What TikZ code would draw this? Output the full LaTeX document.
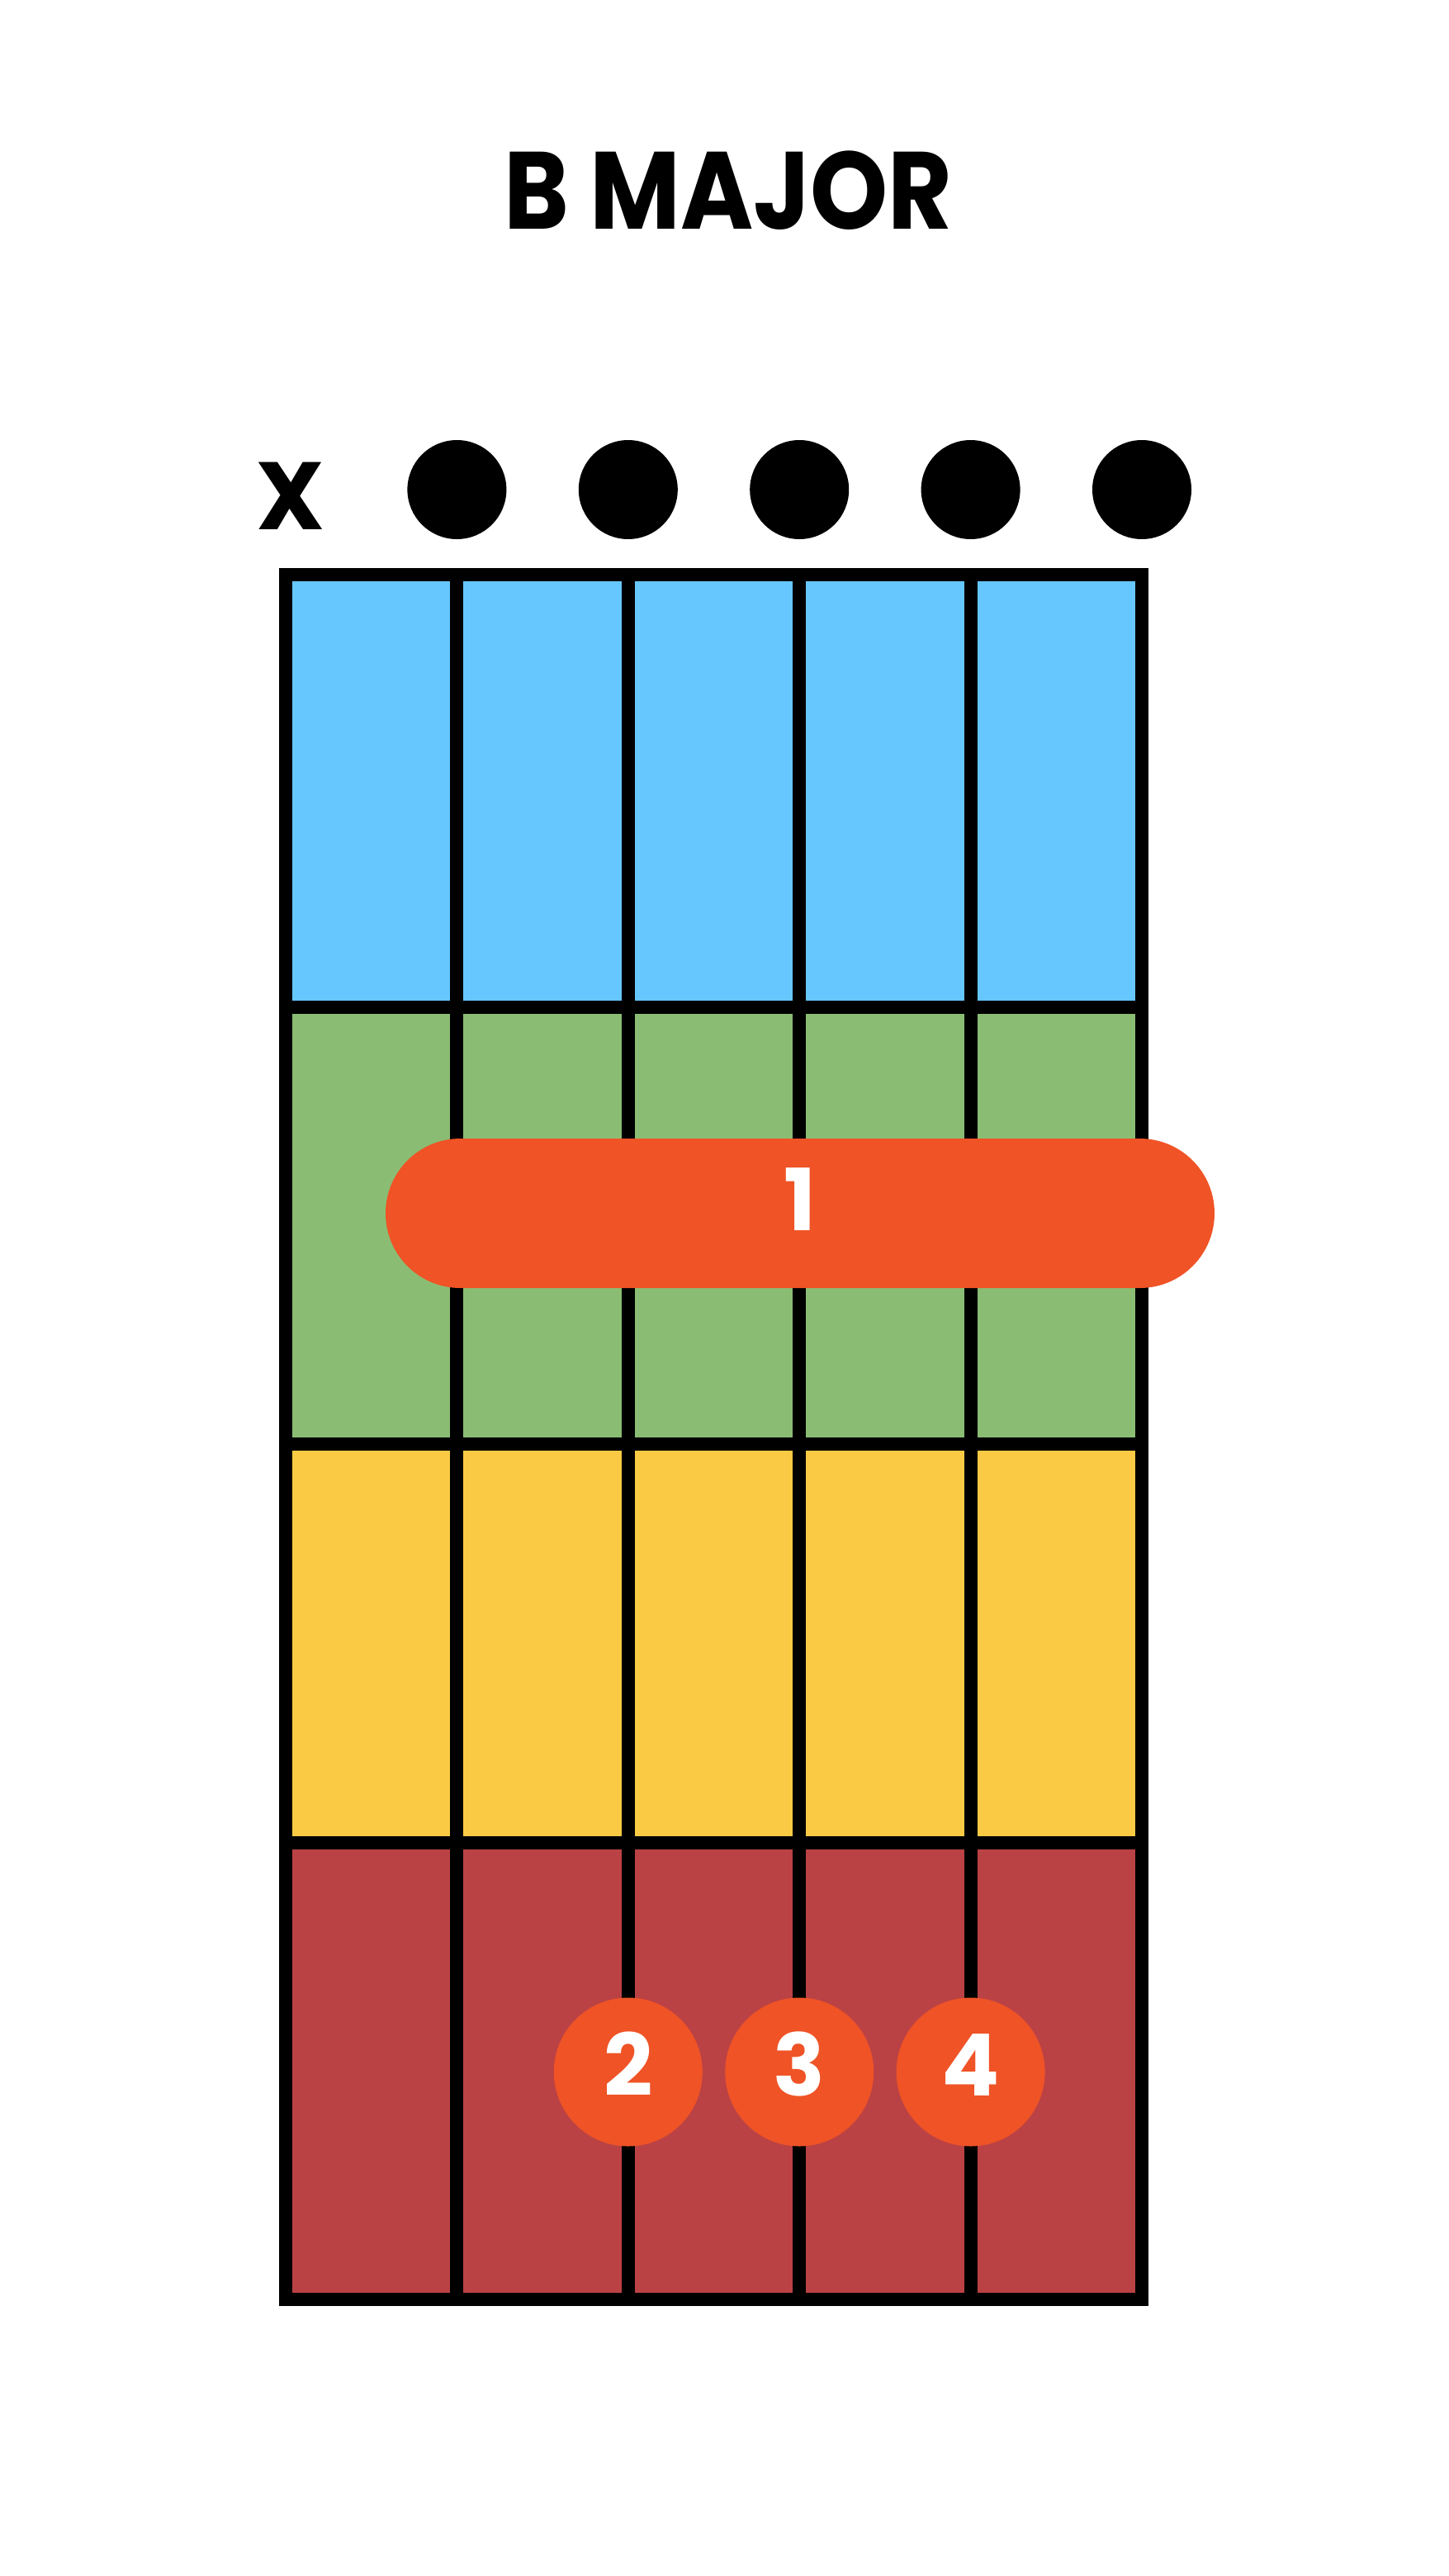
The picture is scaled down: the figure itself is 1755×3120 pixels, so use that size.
\documentclass[tikz,border=0pt]{standalone}
\usepackage{fontspec}
\setmainfont{Poppins}
\usetikzlibrary{positioning}
\definecolor{fretblue}{RGB}{102,199,255}
\definecolor{fretgreen}{RGB}{138,189,115}
\definecolor{fretyellow}{RGB}{251,202,68}
\definecolor{fretred}{RGB}{187,66,68}
\definecolor{fingerorange}{RGB}{239,83,38}
\tikzstyle{gridline} = [line width=16pt]
\tikzstyle{openstr} = [circle, fill=black, minimum size=120pt, inner sep=0pt]
\tikzstyle{finger} = [circle, fill=fingerorange, minimum size=180pt, inner sep=0pt, text=white,
  font=\fontsize{104}{104}\selectfont\bfseries, text height=74pt, text depth=16pt]
\tikzstyle{barrebar} = [rectangle, rounded corners=90.5pt, fill=fingerorange, minimum width=1004pt,
  minimum height=181pt, inner sep=0pt, text=white,
  font=\fontsize{104}{104}\selectfont\bfseries, text height=72pt, text depth=31pt]

\begin{document}
\begin{tikzpicture}[x=1pt, y=-1pt]
    \useasboundingbox (0,0) rectangle (1755,3120);
    \node[anchor=base, font=\fontsize{133}{133}\selectfont\bfseries] (title) at (882,277)
      {\scalebox{0.9}[1]{B MAJOR}};
    % fret rows
    \foreach \ya/\yb/\c in {696/1219.5/fretblue, 1219.5/1749/fretgreen,
                            1749/2232/fretyellow, 2232/2785/fretred}
      \fill[\c] (346,\ya) rectangle (1383,\yb);
    \foreach \y in {1219.5, 1749, 2232}
      \draw[gridline] (346,\y) -- (1383,\y);
    \foreach \i in {1,...,4}
      \draw[gridline] (346+\i*207.4,696) -- (346+\i*207.4,2785);
    \draw[gridline] (346,696) rectangle (1383,2785);
    % muted and open strings
    \node[font=\fontsize{116}{116}\selectfont\bfseries] (mute) at (352,601) {X};
    \foreach \i in {1,...,5}
      \node[openstr] (open\i) at (346+\i*207.4,593) {};
    % fingers
    \node[barrebar] (barre) at (969,1469.5) {1};
    \node[finger] (f2) at (760.8,2509.5) {2};
    \node[finger] (f3) at (968.2,2509.5) {3};
    \node[finger] (f4) at (1175.6,2509.5) {4};
\end{tikzpicture}
\end{document}
